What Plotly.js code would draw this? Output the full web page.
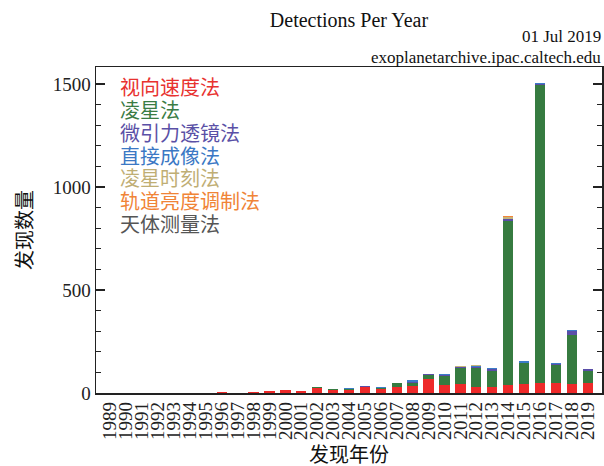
<!DOCTYPE html>
<html>
<head>
<meta charset="utf-8">
<script src="https://cdn.plot.ly/plotly-3.0.1.min.js"></script>
<style>html,body{margin:0;padding:0;background:#fff;}#chart{width:604px;height:466px;}</style>
</head>
<body>
<div id="chart"></div>
<script>
const years = ["1989","1990","1991","1992","1993","1994","1995","1996","1997","1998","1999","2000","2001","2002","2003","2004","2005","2006","2007","2008","2009","2010","2011","2012","2013","2014","2015","2016","2017","2018","2019"];
const radialVelocity = [1,0,0,0,0,0,1,6,1,6,12,15,12,25,17,13,30,20,29,34,68,37,42,30,27,37,44,48,47,42,50];
const transit        = [0,0,0,0,0,0,0,0,0,0,0,0,0,2,1,6,1,2,19,14,17,44,77,92,78,798,101,1446,87,239,58];
const microlensing   = [0,0,0,0,0,0,0,0,0,0,0,0,0,0,1,2,2,2,1,5,5,8,5,5,11,7,3,7,9,21,7];
const imaging        = [0,0,0,0,0,0,0,0,0,0,0,0,0,0,0,4,1,5,1,12,2,3,3,5,3,4,5,2,4,3,2];
const timingVar      = [0,0,0,2,0,1,0,0,0,0,0,0,0,0,1,0,0,0,0,0,0,0,2,2,2,10,0,0,0,0,0];
const orbitalBright  = [0,0,0,0,0,0,0,0,0,0,0,0,0,0,0,0,0,0,0,0,0,0,3,0,1,4,0,0,0,0,0];
const astrometry     = [0,0,0,0,0,0,0,0,0,0,0,0,0,0,0,0,0,0,0,0,0,0,0,0,1,0,0,0,0,0,0];
const methodNames = ["视向速度法","凌星法","微引力透镜法","直接成像法","凌星时刻法","轨道亮度调制法","天体测量法"];
const methodColors = ["#ee2a2a","#367b40","#5a4ea8","#3b7cc8","#c4b47a","#f2853a","#5a5a5a"];
const legendColors = ["#e8322f","#3a7c44","#5a50a6","#3b78c4","#bfae74","#f08437","#555555"];
const series = [radialVelocity, transit, microlensing, imaging, timingVar, orbitalBright, astrometry];
const yTicks = [0,500,1000,1500];

const FONT = "Liberation Serif, Noto Sans CJK SC, serif";

const traces = series.map((vals, i) => ({
  type: "bar",
  x: years,
  y: vals,
  name: methodNames[i],
  marker: {color: methodColors[i], line: {width: 0}},
  showlegend: false,
  hoverinfo: "x+y+name"
}));

const plotTop = 67, plotBottom = 393.3, plotH = plotBottom - plotTop;
const annotations = [
  {text: "01 Jul 2019", xref: "paper", yref: "paper", x: 1, y: (plotBottom - 36) / plotH, xanchor: "right", yanchor: "middle", showarrow: false, borderpad: 0, font: {family: FONT, size: 17, color: "#111"}},
  {text: "exoplanetarchive.ipac.caltech.edu", xref: "paper", yref: "paper", x: 1, y: (plotBottom - 57) / plotH, xanchor: "right", yanchor: "middle", showarrow: false, borderpad: 0, font: {family: FONT, size: 17, color: "#111"}}
];
methodNames.forEach((n, i) => {
  annotations.push({
    text: n, xref: "paper", yref: "paper",
    x: (119 - 96) / 506, y: (plotBottom - (88.3 + 22.8 * i)) / plotH,
    xanchor: "left", yanchor: "middle", showarrow: false, borderpad: 0,
    font: {family: FONT, size: 20, color: legendColors[i]}
  });
});

const layout = {
  width: 604, height: 466,
  margin: {l: 96, r: 2, t: 67, b: 73},
  paper_bgcolor: "#fff", plot_bgcolor: "#fff",
  barmode: "stack",
  bargap: 0.35,
  font: {family: FONT, color: "#111"},
  title: {text: "Detections Per Year", x: 0.5, xref: "paper", xanchor: "center", y: 1 - 20 / 466, yanchor: "middle", font: {family: FONT, size: 20, color: "#111"}},
  xaxis: {
    type: "category",
    range: [-0.9, 30.9],
    tickmode: "linear", tick0: 0, dtick: 1,
    tickangle: -90,
    ticks: "",
    showline: true, mirror: true, linecolor: "#222", linewidth: 1.5,
    showgrid: false, zeroline: false,
    tickfont: {family: FONT, size: 19, color: "#222"},
    title: {text: "发现年份", font: {family: FONT, size: 20, color: "#111"}, standoff: 9}
  },
  yaxis: {
    range: [0, 1582],
    tickvals: yTicks,
    ticks: "inside", ticklen: 9, tickwidth: 1.2, tickcolor: "#222",
    minor: {dtick: 100, ticks: "inside", ticklen: 5, tickwidth: 1, tickcolor: "#222", showgrid: false},
    showline: true, mirror: "ticks", linecolor: "#222", linewidth: 1.5,
    showgrid: false, zeroline: false,
    tickfont: {family: FONT, size: 19, color: "#222"},
    title: {text: "发现数量", font: {family: FONT, size: 20, color: "#111"}, standoff: 14}
  },
  annotations: annotations
};

Plotly.newPlot("chart", traces, layout, {displayModeBar: false, staticPlot: true});
</script>
</body>
</html>
